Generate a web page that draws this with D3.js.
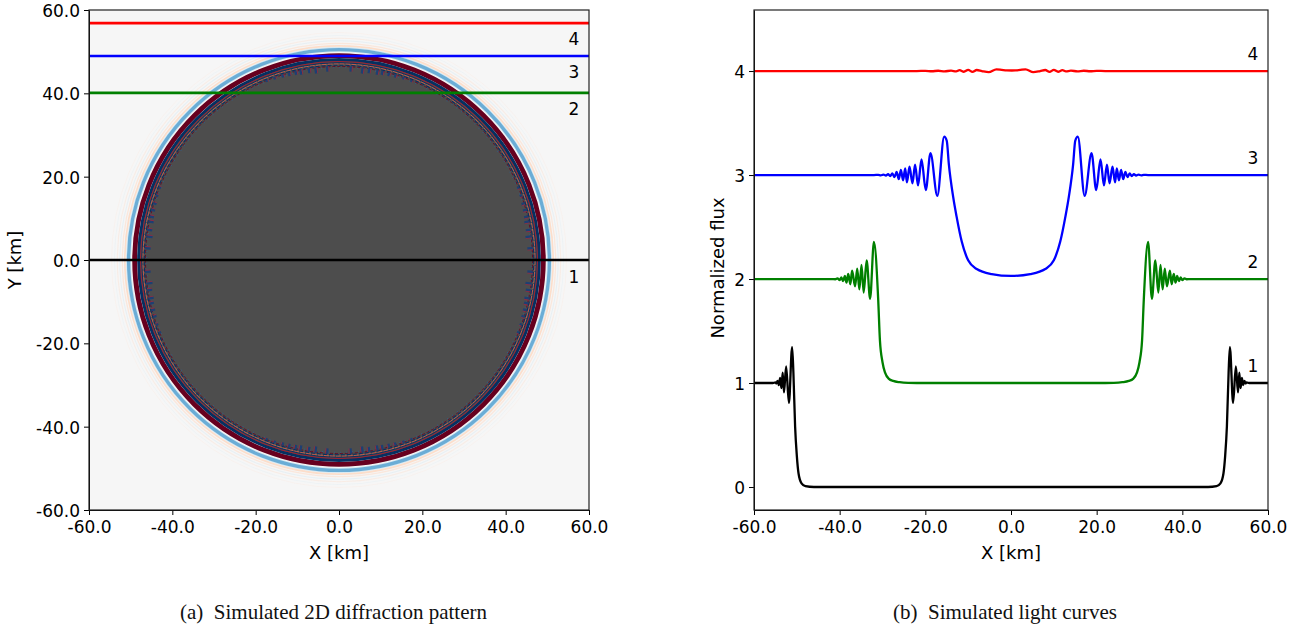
<!DOCTYPE html>
<html>
<head>
<meta charset="utf-8">
<script src="https://cdn.jsdelivr.net/npm/d3@7"></script>
<style>
  body { margin: 0; background: #fff; }
  svg text { font-family: "DejaVu Sans", sans-serif; fill: #000; }
  svg text.caption { font-family: "Liberation Serif", serif; font-size: 21px; fill: #111; }
</style>
</head>
<body>
<svg id="chart" width="1305" height="629"></svg>
<script>
var xTicks = [-60, -40, -20, 0, 20, 40, 60];
var yTicksLeft = [-60, -40, -20, 0, 20, 40, 60];
var yTicksRight = [0, 1, 2, 3, 4];

// scan lines in the 2D pattern
var scanY = [0, 40.1, 48.95, 56.85];
var scanColor = ["#000000", "#008000", "#0000ff", "#ff0000"];
var scanName = ["1", "2", "3", "4"];
var leftLabelY = [-4.2, 36, 45, 52.7];
var rightLabelY = [1.15, 2.15, 3.15, 4.15];

// rings of the pattern: radius km, width km, colour, dash, opacity
var ringR = [54.6, 53.9, 53.2, 52.6, 52.0, 51.4, 50.95, 50.05, 50.5, 49.05, 48.1, 47.65, 47.35, 47.05, 46.75, 46.45, 46.15];
var ringW = [0.2, 0.2, 0.25, 0.25, 0.3, 0.4, 0.3, 0.3, 0.8, 1.15, 0.7, 0.2, 0.22, 0.2, 0.25, 0.22, 0.25];
var ringC = ["#fddbc7", "#d1e5f0", "#fddbc7", "#d1e5f0", "#fddbc7", "#fddbc7", "#d1e5f0", "#d1e5f0", "#6badd6", "#67001f", "#053061", "#b2182b", "#053061", "#d6604d", "#053061", "#67001f", "#2166ac"];
var ringD = [null, null, null, null, null, null, null, null, null, null, null, null, null, "5 1", "4 2", "3 2", "1 5"];
var ringO = [0.2, 0.25, 0.35, 0.4, 0.55, 0.9, 0.9, 0.9, 1, 1, 1, 1, 1, 1, 1, 0.9, 0.6];

// spikes along the inner rim, degrees away from each of the four axis directions
var toothAngle = [3.5, 7, 9, 11.5, 13, 15, 17, 19.5, 22];
var toothLen = [1.3, 1.5, 1.2, 1.2, 1.0, 0.9, 0.8, 0.6, 0.5];
var axisAngle = [0, 90, 180, 270];

// light curves
var x1 = [-60, -55.6, -55, -54.8, -54.5, -54.2, -53.9, -53.6, -53.3, -53, -52.5, -51.85, -51.1, -50.8, -50.4, -50, -49.6, -48.9, -48, -46, 0,
  46, 48, 48.9, 49.6, 50, 50.4, 50.8, 51.1, 51.85, 52.5, 53, 53.3, 53.6, 53.9, 54.2, 54.5, 54.8, 55, 55.6, 60];
var y1 = [1, 1, 1.005, 0.995, 1.02, 0.98, 1.05, 0.95, 1.1, 0.91, 1.16, 0.81, 1.346, 1.096, 0.58, 0.3, 0.13, 0.035, 0.008, 0, 0,
  0, 0.008, 0.035, 0.13, 0.3, 0.58, 1.096, 1.346, 0.81, 1.16, 0.91, 1.1, 0.95, 1.05, 0.98, 1.02, 0.995, 1.005, 1, 1];

var x2 = [-60, -42, -41, -40.5, -40, -39.6, -39.2, -38.8, -38.4, -38, -37.5, -37.1, -36.4, -35.9, -35.4, -34.9, -34.4, -33.7, -32.9, -32, -31, -30.6, -30, -29.4, -28.5, -27.5, -26, -24, -20, 0,
  20, 24, 26, 27.5, 28.5, 29.4, 30, 30.6, 31, 32, 32.9, 33.7, 34.4, 34.9, 35.4, 35.9, 36.4, 37.1, 37.5, 38, 38.4, 38.8, 39.2, 39.6, 40, 40.5, 41, 42, 60];
var y2 = [2, 2, 1.998, 2.006, 1.99, 2.015, 1.98, 2.03, 1.965, 2.05, 1.95, 2.08, 1.93, 2.1, 1.9, 2.135, 1.87, 2.18, 1.81, 2.358, 1.8, 1.41, 1.2, 1.1, 1.04, 1.02, 1.008, 1.002, 1, 1,
  1, 1.002, 1.008, 1.02, 1.04, 1.1, 1.2, 1.41, 1.8, 2.358, 1.81, 2.18, 1.87, 2.135, 1.9, 2.1, 1.93, 2.08, 1.95, 2.05, 1.965, 2.03, 1.98, 2.015, 1.99, 2.006, 1.998, 2, 2];

var x3 = [-60, -32, -31, -30.4, -29.8, -29.2, -28.7, -28.2, -27.7, -27.2, -26.7, -26.2, -25.7, -25.2, -24.7, -24.3, -23.7, -23, -22.4, -21.7, -20.9, -19.9, -18.8, -17.2, -15.6, -15, -14.5, -13.5, -12.7, -11.5, -10, -8, -4.5, 0,
  4.5, 8, 10, 11.5, 12.7, 13.5, 14.5, 15, 15.6, 17.2, 18.8, 19.9, 20.9, 21.7, 22.4, 23, 23.7, 24.3, 24.7, 25.2, 25.7, 26.2, 26.7, 27.2, 27.7, 28.2, 28.7, 29.2, 29.8, 30.4, 31, 32, 60];
var y3 = [3, 3, 3.002, 2.997, 3.004, 2.995, 3.008, 2.99, 3.015, 2.98, 3.03, 2.96, 3.05, 2.95, 3.065, 2.93, 3.08, 2.92, 3.1, 2.9, 3.15, 2.856, 3.21, 2.8, 3.37, 3.33, 3.1, 2.79, 2.6, 2.36, 2.18, 2.096, 2.048, 2.03,
  2.048, 2.096, 2.18, 2.36, 2.6, 2.79, 3.1, 3.33, 3.37, 2.8, 3.21, 2.856, 3.15, 2.9, 3.1, 2.92, 3.08, 2.93, 3.065, 2.95, 3.05, 2.96, 3.03, 2.98, 3.015, 2.99, 3.008, 2.995, 3.004, 2.997, 3.002, 3, 3];

var x4 = [-60, -22, -20, -18.5, -17, -15.5, -14, -12.8, -12, -11, -10, -9, -8, -6.8, -5.2, -3.4, -2.2, -1, 0.2, 1, 2.2, 3.4, 5.2, 6.8, 8, 9, 10, 11, 12, 12.8, 14, 15.5, 17, 18.5, 20, 22, 60];
var y4 = [4, 4, 4.002, 3.998, 4.003, 3.997, 4.004, 3.996, 4.008, 3.993, 4.011, 3.992, 4.01, 4.0, 3.99, 4.017, 4.012, 4.006, 4.005, 4.006, 4.012, 4.017, 3.99, 4.0, 4.01, 3.992, 4.011, 3.993, 4.008, 3.996, 4.004, 3.997, 4.003, 3.998, 4.002, 4, 4];

var curvesX = [x1, x2, x3, x4];
var curvesY = [y1, y2, y3, y4];

var svg = d3.select("#chart");
var oneDec = function(d) { return d3.format(".1f")(d).replace("\u2212", "-"); };

// left panel
var xL = d3.scaleLinear().domain([-60, 60]).range([89, 589]);
var yL = d3.scaleLinear().domain([-60, 60]).range([510, 10]);

svg.append("clipPath").attr("id", "clipL").append("rect")
  .attr("x", 89).attr("y", 10).attr("width", 500).attr("height", 500);

var img = svg.append("g").attr("clip-path", "url(#clipL)");
img.append("rect").attr("x", 89).attr("y", 10).attr("width", 500).attr("height", 500).attr("fill", "#f6f6f6");

var kmToPx = function(r) { return xL(r) - xL(0); };

img.append("circle")
  .attr("cx", xL(0)).attr("cy", yL(0)).attr("r", kmToPx(48))
  .attr("fill", "#4d4d4d");

ringR.forEach(function(r, i) {
  img.append("circle")
    .attr("cx", xL(0)).attr("cy", yL(0)).attr("r", kmToPx(r))
    .attr("fill", "none")
    .attr("stroke", ringC[i])
    .attr("stroke-width", kmToPx(ringW[i]))
    .attr("stroke-opacity", ringO[i])
    .attr("stroke-dasharray", ringD[i]);
});

// rim spikes, a navy wedge with a thin red one beside it
var rad = Math.PI / 180;
var teeth = img.append("g").attr("transform", "translate(" + xL(0) + "," + yL(0) + ")");
axisAngle.forEach(function(a) {
  [-1, 1].forEach(function(s) {
    toothAngle.forEach(function(t, i) {
      var mid = a + s * t;
      var inner = kmToPx(46.6 - toothLen[i]);
      var outer = kmToPx(46.6);
      teeth.append("path")
        .attr("d", d3.arc()({ innerRadius: inner, outerRadius: outer, startAngle: (mid - 0.35) * rad, endAngle: (mid + 0.35) * rad }))
        .attr("fill", "#1d3f73");
      teeth.append("path")
        .attr("d", d3.arc()({ innerRadius: inner, outerRadius: outer, startAngle: (mid + 0.35) * rad, endAngle: (mid + 0.6) * rad }))
        .attr("fill", "#8e2a45");
    });
  });
});

scanY.forEach(function(v, i) {
  img.append("line")
    .attr("x1", xL(-60)).attr("x2", xL(60))
    .attr("y1", yL(v)).attr("y2", yL(v))
    .attr("stroke", scanColor[i]).attr("stroke-width", 2.6);
  svg.append("text")
    .attr("x", xL(56.4)).attr("y", yL(leftLabelY[i]))
    .attr("text-anchor", "middle").attr("dominant-baseline", "middle")
    .style("font-size", "17px").text(scanName[i]);
});

drawFrame(xL, yL, yTicksLeft, oneDec);
svg.append("text").attr("x", 339).attr("y", 559).attr("text-anchor", "middle").style("font-size", "18px").text("X [km]");
svg.append("text").attr("transform", "translate(21,260) rotate(-90)").attr("text-anchor", "middle").style("font-size", "18px").text("Y [km]");
svg.append("text").attr("class", "caption").attr("x", 333.5).attr("y", 619).attr("text-anchor", "middle").text("(a)\u00a0 Simulated 2D diffraction pattern");

// right panel
var xR = d3.scaleLinear().domain([-60, 60]).range([754, 1268]);
var yR = d3.scaleLinear().domain([-0.221, 4.587]).range([510, 10]);

var line = d3.line()
  .x(function(d) { return xR(d[0]); })
  .y(function(d) { return yR(d[1]); })
  .curve(d3.curveMonotoneX);

curvesX.forEach(function(xs, i) {
  svg.append("path")
    .datum(xs.map(function(v, j) { return [v, curvesY[i][j]]; }))
    .attr("d", line)
    .attr("fill", "none")
    .attr("stroke", scanColor[i])
    .attr("stroke-width", 2.3);
  svg.append("text")
    .attr("x", xR(56.5)).attr("y", yR(rightLabelY[i]))
    .attr("text-anchor", "middle").attr("dominant-baseline", "middle")
    .style("font-size", "17px").text(scanName[i]);
});

drawFrame(xR, yR, yTicksRight, function(d) { return d3.format("d")(d); });
svg.append("text").attr("x", 1011).attr("y", 559).attr("text-anchor", "middle").style("font-size", "18px").text("X [km]");
svg.append("text").attr("transform", "translate(724,268) rotate(-90)").attr("text-anchor", "middle").style("font-size", "18px").text("Normalized flux");
svg.append("text").attr("class", "caption").attr("x", 1005).attr("y", 619).attr("text-anchor", "middle").text("(b)\u00a0 Simulated light curves");

function drawFrame(x, y, yTicks, yFormat) {
  var gx = svg.append("g")
    .attr("transform", "translate(0," + y.range()[0] + ")")
    .call(d3.axisBottom(x).tickValues(xTicks).tickFormat(oneDec).tickSize(5).tickSizeOuter(0).tickPadding(6));
  var gy = svg.append("g")
    .attr("transform", "translate(" + x.range()[0] + ",0)")
    .call(d3.axisLeft(y).tickValues(yTicks).tickFormat(yFormat).tickSize(5).tickSizeOuter(0).tickPadding(4));
  gx.selectAll("text").style("font-size", "17px");
  gy.selectAll("text").style("font-size", "17px").attr("dy", "0.38em");
  svg.append("rect")
    .attr("x", x.range()[0]).attr("y", y.range()[1])
    .attr("width", x.range()[1] - x.range()[0])
    .attr("height", y.range()[0] - y.range()[1])
    .attr("fill", "none").attr("stroke", "#222").attr("stroke-width", 1.2);
}
</script>
</body>
</html>
